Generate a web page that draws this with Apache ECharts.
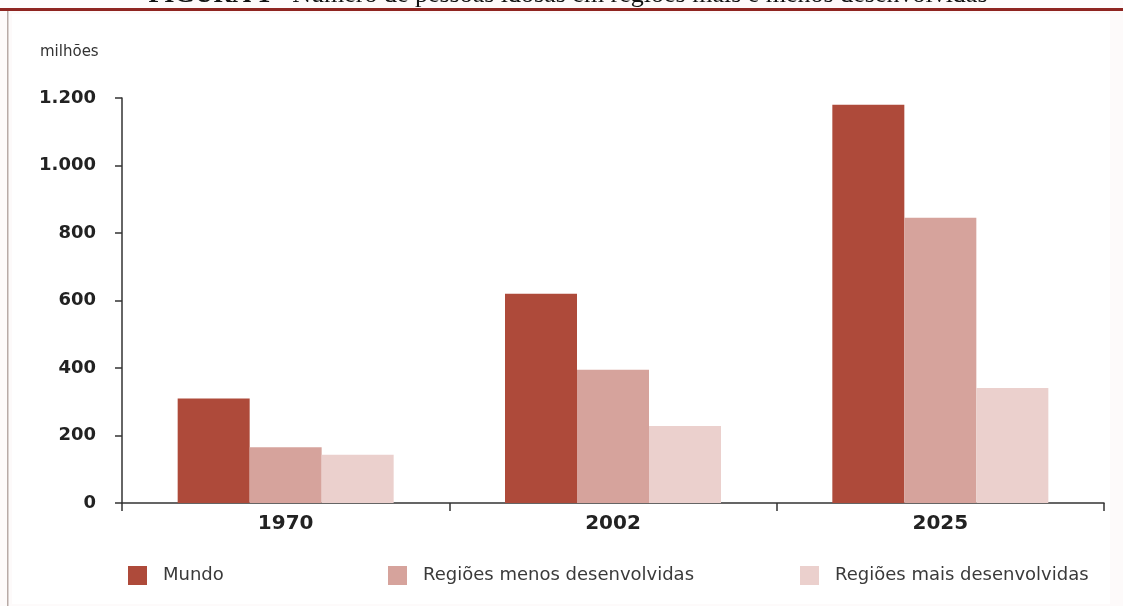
<!DOCTYPE html>
<html>
<head>
<meta charset="utf-8">
<script src="https://cdn.jsdelivr.net/npm/echarts@6/dist/echarts.min.js"></script>
<style>
html,body{margin:0;padding:0;background:#ffffff;}
#chart{width:1123px;height:606px;}
</style>
</head>
<body>
<div id="chart"></div>
<script>
var categories = ['1970', '2002', '2025'];
var seriesNames = ['Mundo', 'Regiões menos desenvolvidas', 'Regiões mais desenvolvidas'];
var mundo = [310, 620, 1180];
var menos = [165, 395, 845];
var mais = [143, 228, 341];
var yTicks = [0, 200, 400, 600, 800, 1000, 1200];
var colors = ['#ae4a3a', '#d6a39c', '#ebd0cd'];

var font = 'DejaVu Sans';
var chart = echarts.init(document.getElementById('chart'));

function fmt(v) {
  return String(v).replace(/\B(?=(\d{3})+(?!\d))/g, '.');
}

function legendAt(name, left) {
  return {
    data: [name],
    left: left,
    top: 566,
    padding: 0,
    icon: 'rect',
    itemWidth: 19,
    itemHeight: 19,
    selectedMode: false,
    textStyle: { fontFamily: font, fontSize: 18, color: '#3a3a3a', padding: [0, 0, 0, 11] }
  };
}

var option = {
  backgroundColor: '#fdfafa',
  animation: false,
  graphic: [
    { type: 'rect', left: 12, top: 14, shape: { width: 1098, height: 590 }, style: { fill: '#ffffff' }, silent: true },
    { type: 'text', x: 568, y: 8, style: { text: '{b|FIGURA 1} - Número de pessoas idosas em regiões mais e menos desenvolvidas', fontFamily: 'Liberation Serif', fontSize: 26, fill: '#111', align: 'center', verticalAlign: 'bottom', rich: { b: { fontFamily: 'Liberation Serif', fontSize: 26, fontWeight: 'bold', fill: '#111' } } }, silent: true },
    { type: 'rect', left: 0, top: 8, shape: { width: 1123, height: 3 }, style: { fill: '#8e2420' }, silent: true },
    { type: 'rect', left: 7, top: 11, shape: { width: 1.5, height: 595 }, style: { fill: '#b8aaa6' }, silent: true },
    { type: 'text', x: 40, y: 45, style: { text: 'milhões', fontFamily: font, fontSize: 15, fill: '#333' }, silent: true }
  ],
  grid: { left: 122, right: 19, top: 98, bottom: 103 },
  legend: [
    legendAt(seriesNames[0], 128),
    legendAt(seriesNames[1], 388),
    legendAt(seriesNames[2], 800)
  ],
  xAxis: {
    type: 'category',
    data: categories,
    axisLine: { lineStyle: { color: '#333', width: 1.5 } },
    axisTick: { show: true, length: 8, lineStyle: { color: '#333', width: 1.5 } },
    axisLabel: { fontFamily: font, fontSize: 20, fontWeight: 'bold', color: '#222', margin: 11 }
  },
  yAxis: {
    type: 'value',
    min: yTicks[0],
    max: yTicks[yTicks.length - 1],
    interval: 200,
    axisLine: { show: true, lineStyle: { color: '#333', width: 1.5 } },
    axisTick: { show: true, length: 7, lineStyle: { color: '#333', width: 1.5 } },
    splitLine: { show: false },
    axisLabel: { fontFamily: font, fontSize: 18, fontWeight: 'bold', color: '#222', margin: 26, formatter: fmt }
  },
  series: [
    { name: seriesNames[0], type: 'bar', data: mundo, barWidth: 72, barGap: '0%', itemStyle: { color: colors[0] } },
    { name: seriesNames[1], type: 'bar', data: menos, barWidth: 72, barGap: '0%', itemStyle: { color: colors[1] } },
    { name: seriesNames[2], type: 'bar', data: mais, barWidth: 72, barGap: '0%', itemStyle: { color: colors[2] } }
  ]
};
chart.setOption(option);
</script>
</body>
</html>
